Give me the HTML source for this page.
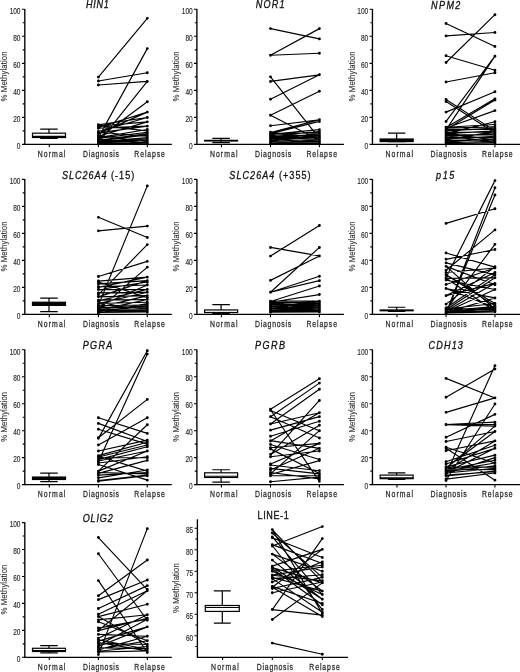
<!DOCTYPE html>
<html><head><meta charset="utf-8"><style>
html,body{margin:0;padding:0;background:#fff;}
svg{display:block;font-family:"Liberation Sans", sans-serif;will-change:transform;}
</style></head><body>
<svg width="520" height="672" viewBox="0 0 520 672">
<rect width="520" height="672" fill="#fff"/>
<path d="M24.8 8.9V144.4H171.8" fill="none" stroke="#000" stroke-width="1.35"/>
<path d="M21.9 144.4H24.8M21.9 117.38H24.8M21.9 90.36H24.8M21.9 63.34H24.8M21.9 36.32H24.8M21.9 9.3H24.8M22.7 130.89H24.8M22.7 103.87H24.8M22.7 76.85H24.8M22.7 49.83H24.8M22.7 22.81H24.8M49.3 144.4V147.2M98.4 144.4V147.2M147.3 144.4V147.2" stroke="#000" stroke-width="1.1" fill="none"/>
<text font-size="8.2" text-anchor="end" fill="#2a2a2a" textLength="4.5" lengthAdjust="spacing" stroke="#2a2a2a" stroke-width="0.15" transform="translate(20.5 149.1) scale(0.8 1)">0</text>
<text font-size="8.2" text-anchor="end" fill="#2a2a2a" textLength="9" lengthAdjust="spacing" stroke="#2a2a2a" stroke-width="0.15" transform="translate(20.5 122.08) scale(0.8 1)">20</text>
<text font-size="8.2" text-anchor="end" fill="#2a2a2a" textLength="9" lengthAdjust="spacing" stroke="#2a2a2a" stroke-width="0.15" transform="translate(20.5 95.06) scale(0.8 1)">40</text>
<text font-size="8.2" text-anchor="end" fill="#2a2a2a" textLength="9" lengthAdjust="spacing" stroke="#2a2a2a" stroke-width="0.15" transform="translate(20.5 68.04) scale(0.8 1)">60</text>
<text font-size="8.2" text-anchor="end" fill="#2a2a2a" textLength="9" lengthAdjust="spacing" stroke="#2a2a2a" stroke-width="0.15" transform="translate(20.5 41.02) scale(0.8 1)">80</text>
<text font-size="8.2" text-anchor="end" fill="#2a2a2a" textLength="13.5" lengthAdjust="spacing" stroke="#2a2a2a" stroke-width="0.15" transform="translate(20.5 14) scale(0.8 1)">100</text>
<text font-size="8.2" text-anchor="middle" fill="#2a2a2a" textLength="52.63" lengthAdjust="spacing" stroke="#2a2a2a" stroke-width="0.1" transform="translate(7.3 76.45) rotate(-90) scale(0.95 1)">% Methylation</text>
<text font-size="8.6" text-anchor="middle" fill="#2a2a2a" textLength="34.5" lengthAdjust="spacing" stroke="#2a2a2a" stroke-width="0.25" transform="translate(51.6 156.7) scale(0.8 1)">Normal</text>
<text font-size="8.6" text-anchor="middle" fill="#2a2a2a" textLength="45.12" lengthAdjust="spacing" stroke="#2a2a2a" stroke-width="0.25" transform="translate(101 156.7) scale(0.8 1)">Diagnosis</text>
<text font-size="8.6" text-anchor="middle" fill="#2a2a2a" textLength="38.25" lengthAdjust="spacing" stroke="#2a2a2a" stroke-width="0.25" transform="translate(149.6 156.7) scale(0.8 1)">Relapse</text>
<text transform="translate(97.4 8.4) scale(0.88 1)" font-size="10.3" text-anchor="middle" fill="#111" stroke="#111" stroke-width="0.3" textLength="25.91" lengthAdjust="spacing"><tspan font-style="italic">HIN1</tspan></text>
<g stroke="#000" stroke-width="1.2" fill="none"><path d="M40.25 129.13H57.75M40.25 138.46H57.75M49 129.13V133.19M49 137.51V138.46"/><rect x="32.5" y="133.19" width="33" height="4.32" fill="#fff"/><path d="M32.5 136.29H65.5"/></g>
<path d="M98.4 77.12L147.3 18.35M98.4 81.04L147.3 72.8M98.4 84.96L147.3 81.44M98.4 137.65L147.3 48.61M98.4 142.64L147.3 81.44M98.4 137.92L147.3 101.71M98.4 127.51L147.3 112.11M98.4 133.59L147.3 112.11M98.4 124.81L147.3 117.52M98.4 131.57L147.3 117.52M98.4 126.16L147.3 121.84M98.4 136.29L147.3 121.84M98.4 128.19L147.3 126.16M98.4 132.92L147.3 126.16M98.4 137.65L147.3 129.54M98.4 125.49L147.3 130.89M98.4 138.32L147.3 132.24M98.4 140.35L147.3 133.59M98.4 141.02L147.3 134.94M98.4 132.24L147.3 136.29M98.4 141.7L147.3 137.65M98.4 142.37L147.3 139M98.4 143.05L147.3 140.35M98.4 135.62L147.3 141.7M98.4 143.72L147.3 142.37M98.4 139.67L147.3 143.05M98.4 143.32L147.3 143.72" stroke="#000" stroke-width="1.15" fill="none"/>
<path d="M98.4 77.12h0M147.3 18.35h0M98.4 81.04h0M147.3 72.8h0M98.4 84.96h0M147.3 81.44h0M98.4 137.65h0M147.3 48.61h0M98.4 142.64h0M147.3 81.44h0M98.4 137.92h0M147.3 101.71h0M98.4 127.51h0M147.3 112.11h0M98.4 133.59h0M147.3 112.11h0M98.4 124.81h0M147.3 117.52h0M98.4 131.57h0M147.3 117.52h0M98.4 126.16h0M147.3 121.84h0M98.4 136.29h0M147.3 121.84h0M98.4 128.19h0M147.3 126.16h0M98.4 132.92h0M147.3 126.16h0M98.4 137.65h0M147.3 129.54h0M98.4 125.49h0M147.3 130.89h0M98.4 138.32h0M147.3 132.24h0M98.4 140.35h0M147.3 133.59h0M98.4 141.02h0M147.3 134.94h0M98.4 132.24h0M147.3 136.29h0M98.4 141.7h0M147.3 137.65h0M98.4 142.37h0M147.3 139h0M98.4 143.05h0M147.3 140.35h0M98.4 135.62h0M147.3 141.7h0M98.4 143.72h0M147.3 142.37h0M98.4 139.67h0M147.3 143.05h0M98.4 143.32h0M147.3 143.72h0" stroke="#000" stroke-width="2.9" stroke-linecap="round" fill="none"/>
<path d="M196.9 8.9V144.4H343.9" fill="none" stroke="#000" stroke-width="1.35"/>
<path d="M194 144.4H196.9M194 117.38H196.9M194 90.36H196.9M194 63.34H196.9M194 36.32H196.9M194 9.3H196.9M194.8 130.89H196.9M194.8 103.87H196.9M194.8 76.85H196.9M194.8 49.83H196.9M194.8 22.81H196.9M221.4 144.4V147.2M270.5 144.4V147.2M319.4 144.4V147.2" stroke="#000" stroke-width="1.1" fill="none"/>
<text font-size="8.2" text-anchor="end" fill="#2a2a2a" textLength="4.5" lengthAdjust="spacing" stroke="#2a2a2a" stroke-width="0.15" transform="translate(192.6 149.1) scale(0.8 1)">0</text>
<text font-size="8.2" text-anchor="end" fill="#2a2a2a" textLength="9" lengthAdjust="spacing" stroke="#2a2a2a" stroke-width="0.15" transform="translate(192.6 122.08) scale(0.8 1)">20</text>
<text font-size="8.2" text-anchor="end" fill="#2a2a2a" textLength="9" lengthAdjust="spacing" stroke="#2a2a2a" stroke-width="0.15" transform="translate(192.6 95.06) scale(0.8 1)">40</text>
<text font-size="8.2" text-anchor="end" fill="#2a2a2a" textLength="9" lengthAdjust="spacing" stroke="#2a2a2a" stroke-width="0.15" transform="translate(192.6 68.04) scale(0.8 1)">60</text>
<text font-size="8.2" text-anchor="end" fill="#2a2a2a" textLength="9" lengthAdjust="spacing" stroke="#2a2a2a" stroke-width="0.15" transform="translate(192.6 41.02) scale(0.8 1)">80</text>
<text font-size="8.2" text-anchor="end" fill="#2a2a2a" textLength="13.5" lengthAdjust="spacing" stroke="#2a2a2a" stroke-width="0.15" transform="translate(192.6 14) scale(0.8 1)">100</text>
<text font-size="8.2" text-anchor="middle" fill="#2a2a2a" textLength="52.63" lengthAdjust="spacing" stroke="#2a2a2a" stroke-width="0.1" transform="translate(179.4 76.45) rotate(-90) scale(0.95 1)">% Methylation</text>
<text font-size="8.6" text-anchor="middle" fill="#2a2a2a" textLength="34.5" lengthAdjust="spacing" stroke="#2a2a2a" stroke-width="0.25" transform="translate(223.7 156.7) scale(0.8 1)">Normal</text>
<text font-size="8.6" text-anchor="middle" fill="#2a2a2a" textLength="45.12" lengthAdjust="spacing" stroke="#2a2a2a" stroke-width="0.25" transform="translate(273.1 156.7) scale(0.8 1)">Diagnosis</text>
<text font-size="8.6" text-anchor="middle" fill="#2a2a2a" textLength="38.25" lengthAdjust="spacing" stroke="#2a2a2a" stroke-width="0.25" transform="translate(321.7 156.7) scale(0.8 1)">Relapse</text>
<text transform="translate(270.2 8.3) scale(0.88 1)" font-size="10.3" text-anchor="middle" fill="#111" stroke="#111" stroke-width="0.3" textLength="32.73" lengthAdjust="spacing"><tspan font-style="italic">NOR1</tspan></text>
<g stroke="#000" stroke-width="1.2" fill="none"><path d="M212.35 138.46H229.85M212.35 142.64H229.85M221.1 138.46V140.35M221.1 140.89V142.64"/><rect x="204.6" y="140.35" width="33" height="0.54" fill="#fff"/><path d="M204.6 140.62H237.6"/></g>
<path d="M270.5 28.62L319.4 38.89M270.5 55.23L319.4 28.62M270.5 55.23L319.4 53.21M270.5 76.85L319.4 138.32M270.5 81.44L319.4 74.82M270.5 99.28L319.4 74.82M270.5 115.22L319.4 91.31M270.5 115.22L319.4 140.35M270.5 125.76L319.4 119.81M270.5 132.65L319.4 119.81M270.5 133.59L319.4 121.43M270.5 134.27L319.4 129.67M270.5 135.62L319.4 131.57M270.5 133.32L319.4 132.92M270.5 136.97L319.4 134.27M270.5 134.94L319.4 135.62M270.5 138.32L319.4 136.29M270.5 136.29L319.4 137.65M270.5 139.67L319.4 136.97M270.5 137.65L319.4 139M270.5 141.02L319.4 139.67M270.5 139L319.4 141.02M270.5 140.35L319.4 134.94M270.5 141.97L319.4 141.7M270.5 141.7L319.4 142.78M270.5 143.05L319.4 140.35M270.5 143.32L319.4 143.32M270.5 132.24L319.4 137.65M270.5 138.73L319.4 133.59M270.5 142.51L319.4 142.24" stroke="#000" stroke-width="1.15" fill="none"/>
<path d="M270.5 28.62h0M319.4 38.89h0M270.5 55.23h0M319.4 28.62h0M270.5 55.23h0M319.4 53.21h0M270.5 76.85h0M319.4 138.32h0M270.5 81.44h0M319.4 74.82h0M270.5 99.28h0M319.4 74.82h0M270.5 115.22h0M319.4 91.31h0M270.5 115.22h0M319.4 140.35h0M270.5 125.76h0M319.4 119.81h0M270.5 132.65h0M319.4 119.81h0M270.5 133.59h0M319.4 121.43h0M270.5 134.27h0M319.4 129.67h0M270.5 135.62h0M319.4 131.57h0M270.5 133.32h0M319.4 132.92h0M270.5 136.97h0M319.4 134.27h0M270.5 134.94h0M319.4 135.62h0M270.5 138.32h0M319.4 136.29h0M270.5 136.29h0M319.4 137.65h0M270.5 139.67h0M319.4 136.97h0M270.5 137.65h0M319.4 139h0M270.5 141.02h0M319.4 139.67h0M270.5 139h0M319.4 141.02h0M270.5 140.35h0M319.4 134.94h0M270.5 141.97h0M319.4 141.7h0M270.5 141.7h0M319.4 142.78h0M270.5 143.05h0M319.4 140.35h0M270.5 143.32h0M319.4 143.32h0M270.5 132.24h0M319.4 137.65h0M270.5 138.73h0M319.4 133.59h0M270.5 142.51h0M319.4 142.24h0" stroke="#000" stroke-width="2.9" stroke-linecap="round" fill="none"/>
<path d="M372.45 8.9V144.4H520.05" fill="none" stroke="#000" stroke-width="1.35"/>
<path d="M369.55 144.4H372.45M369.55 117.38H372.45M369.55 90.36H372.45M369.55 63.34H372.45M369.55 36.32H372.45M369.55 9.3H372.45M370.35 130.89H372.45M370.35 103.87H372.45M370.35 76.85H372.45M370.35 49.83H372.45M370.35 22.81H372.45M396.95 144.4V147.2M446.05 144.4V147.2M494.95 144.4V147.2" stroke="#000" stroke-width="1.1" fill="none"/>
<text font-size="8.2" text-anchor="end" fill="#2a2a2a" textLength="4.5" lengthAdjust="spacing" stroke="#2a2a2a" stroke-width="0.15" transform="translate(368.15 149.1) scale(0.8 1)">0</text>
<text font-size="8.2" text-anchor="end" fill="#2a2a2a" textLength="9" lengthAdjust="spacing" stroke="#2a2a2a" stroke-width="0.15" transform="translate(368.15 122.08) scale(0.8 1)">20</text>
<text font-size="8.2" text-anchor="end" fill="#2a2a2a" textLength="9" lengthAdjust="spacing" stroke="#2a2a2a" stroke-width="0.15" transform="translate(368.15 95.06) scale(0.8 1)">40</text>
<text font-size="8.2" text-anchor="end" fill="#2a2a2a" textLength="9" lengthAdjust="spacing" stroke="#2a2a2a" stroke-width="0.15" transform="translate(368.15 68.04) scale(0.8 1)">60</text>
<text font-size="8.2" text-anchor="end" fill="#2a2a2a" textLength="9" lengthAdjust="spacing" stroke="#2a2a2a" stroke-width="0.15" transform="translate(368.15 41.02) scale(0.8 1)">80</text>
<text font-size="8.2" text-anchor="end" fill="#2a2a2a" textLength="13.5" lengthAdjust="spacing" stroke="#2a2a2a" stroke-width="0.15" transform="translate(368.15 14) scale(0.8 1)">100</text>
<text font-size="8.2" text-anchor="middle" fill="#2a2a2a" textLength="52.63" lengthAdjust="spacing" stroke="#2a2a2a" stroke-width="0.1" transform="translate(354.95 76.45) rotate(-90) scale(0.95 1)">% Methylation</text>
<text font-size="8.6" text-anchor="middle" fill="#2a2a2a" textLength="34.5" lengthAdjust="spacing" stroke="#2a2a2a" stroke-width="0.25" transform="translate(399.25 156.7) scale(0.8 1)">Normal</text>
<text font-size="8.6" text-anchor="middle" fill="#2a2a2a" textLength="45.12" lengthAdjust="spacing" stroke="#2a2a2a" stroke-width="0.25" transform="translate(448.65 156.7) scale(0.8 1)">Diagnosis</text>
<text font-size="8.6" text-anchor="middle" fill="#2a2a2a" textLength="38.25" lengthAdjust="spacing" stroke="#2a2a2a" stroke-width="0.25" transform="translate(497.25 156.7) scale(0.8 1)">Relapse</text>
<text transform="translate(445.7 8.6) scale(0.88 1)" font-size="10.3" text-anchor="middle" fill="#111" stroke="#111" stroke-width="0.3" textLength="33.41" lengthAdjust="spacing"><tspan font-style="italic">NPM2</tspan></text>
<g stroke="#000" stroke-width="1.2" fill="none"><path d="M387.9 133.19H405.4M387.9 141.7H405.4M396.65 133.19V139M396.65 141.56V141.7"/><rect x="380.15" y="139" width="33" height="2.57" fill="#111"/><path d="M380.15 140.35H413.15"/></g>
<path d="M446.05 23.49L494.95 46.45M446.05 35.91L494.95 32.54M446.05 62.53L494.95 14.7M446.05 55.77L494.95 70.23M446.05 81.98L494.95 72.8M446.05 121.43L494.95 56.18M446.05 129.94L494.95 56.18M446.05 99.41L494.95 130.89M446.05 101.44L494.95 132.92M446.05 112.11L494.95 91.71M446.05 127.51L494.95 98.87M446.05 129.54L494.95 100.09M446.05 127.92L494.95 110.62M446.05 133.59L494.95 121.7M446.05 127.24L494.95 124.54M446.05 128.19L494.95 126.84M446.05 129.54L494.95 129.54M446.05 130.89L494.95 128.19M446.05 132.24L494.95 132.24M446.05 133.59L494.95 130.89M446.05 134.94L494.95 134.94M446.05 136.29L494.95 133.59M446.05 137.65L494.95 137.65M446.05 139L494.95 136.29M446.05 140.35L494.95 139.67M446.05 141.7L494.95 139M446.05 142.37L494.95 141.7M446.05 143.05L494.95 141.02M446.05 143.72L494.95 143.05M446.05 139.67L494.95 131.57M446.05 132.92L494.95 140.35M446.05 135.62L494.95 142.37" stroke="#000" stroke-width="1.15" fill="none"/>
<path d="M446.05 23.49h0M494.95 46.45h0M446.05 35.91h0M494.95 32.54h0M446.05 62.53h0M494.95 14.7h0M446.05 55.77h0M494.95 70.23h0M446.05 81.98h0M494.95 72.8h0M446.05 121.43h0M494.95 56.18h0M446.05 129.94h0M494.95 56.18h0M446.05 99.41h0M494.95 130.89h0M446.05 101.44h0M494.95 132.92h0M446.05 112.11h0M494.95 91.71h0M446.05 127.51h0M494.95 98.87h0M446.05 129.54h0M494.95 100.09h0M446.05 127.92h0M494.95 110.62h0M446.05 133.59h0M494.95 121.7h0M446.05 127.24h0M494.95 124.54h0M446.05 128.19h0M494.95 126.84h0M446.05 129.54h0M494.95 129.54h0M446.05 130.89h0M494.95 128.19h0M446.05 132.24h0M494.95 132.24h0M446.05 133.59h0M494.95 130.89h0M446.05 134.94h0M494.95 134.94h0M446.05 136.29h0M494.95 133.59h0M446.05 137.65h0M494.95 137.65h0M446.05 139h0M494.95 136.29h0M446.05 140.35h0M494.95 139.67h0M446.05 141.7h0M494.95 139h0M446.05 142.37h0M494.95 141.7h0M446.05 143.05h0M494.95 141.02h0M446.05 143.72h0M494.95 143.05h0M446.05 139.67h0M494.95 131.57h0M446.05 132.92h0M494.95 140.35h0M446.05 135.62h0M494.95 142.37h0" stroke="#000" stroke-width="2.9" stroke-linecap="round" fill="none"/>
<path d="M24.8 179V314.4H171.8" fill="none" stroke="#000" stroke-width="1.35"/>
<path d="M21.9 314.4H24.8M21.9 287.4H24.8M21.9 260.4H24.8M21.9 233.4H24.8M21.9 206.4H24.8M21.9 179.4H24.8M22.7 300.9H24.8M22.7 273.9H24.8M22.7 246.9H24.8M22.7 219.9H24.8M22.7 192.9H24.8M49.3 314.4V317.2M98.4 314.4V317.2M147.3 314.4V317.2" stroke="#000" stroke-width="1.1" fill="none"/>
<text font-size="8.2" text-anchor="end" fill="#2a2a2a" textLength="4.5" lengthAdjust="spacing" stroke="#2a2a2a" stroke-width="0.15" transform="translate(20.5 319.1) scale(0.8 1)">0</text>
<text font-size="8.2" text-anchor="end" fill="#2a2a2a" textLength="9" lengthAdjust="spacing" stroke="#2a2a2a" stroke-width="0.15" transform="translate(20.5 292.1) scale(0.8 1)">20</text>
<text font-size="8.2" text-anchor="end" fill="#2a2a2a" textLength="9" lengthAdjust="spacing" stroke="#2a2a2a" stroke-width="0.15" transform="translate(20.5 265.1) scale(0.8 1)">40</text>
<text font-size="8.2" text-anchor="end" fill="#2a2a2a" textLength="9" lengthAdjust="spacing" stroke="#2a2a2a" stroke-width="0.15" transform="translate(20.5 238.1) scale(0.8 1)">60</text>
<text font-size="8.2" text-anchor="end" fill="#2a2a2a" textLength="9" lengthAdjust="spacing" stroke="#2a2a2a" stroke-width="0.15" transform="translate(20.5 211.1) scale(0.8 1)">80</text>
<text font-size="8.2" text-anchor="end" fill="#2a2a2a" textLength="13.5" lengthAdjust="spacing" stroke="#2a2a2a" stroke-width="0.15" transform="translate(20.5 184.1) scale(0.8 1)">100</text>
<text font-size="8.2" text-anchor="middle" fill="#2a2a2a" textLength="52.63" lengthAdjust="spacing" stroke="#2a2a2a" stroke-width="0.1" transform="translate(7.3 246.5) rotate(-90) scale(0.95 1)">% Methylation</text>
<text font-size="8.6" text-anchor="middle" fill="#2a2a2a" textLength="34.5" lengthAdjust="spacing" stroke="#2a2a2a" stroke-width="0.25" transform="translate(51.6 326.7) scale(0.8 1)">Normal</text>
<text font-size="8.6" text-anchor="middle" fill="#2a2a2a" textLength="45.12" lengthAdjust="spacing" stroke="#2a2a2a" stroke-width="0.25" transform="translate(101 326.7) scale(0.8 1)">Diagnosis</text>
<text font-size="8.6" text-anchor="middle" fill="#2a2a2a" textLength="38.25" lengthAdjust="spacing" stroke="#2a2a2a" stroke-width="0.25" transform="translate(149.6 326.7) scale(0.8 1)">Relapse</text>
<text transform="translate(98.05 179) scale(0.88 1)" font-size="10.3" text-anchor="middle" fill="#111" stroke="#111" stroke-width="0.3" textLength="82.16" lengthAdjust="spacing"><tspan font-style="italic">SLC26A4</tspan> (-15)</text>
<g stroke="#000" stroke-width="1.2" fill="none"><path d="M40.25 298.06H57.75M40.25 311.56H57.75M49 298.06V302.25M49 305.35V311.56"/><rect x="32.5" y="302.25" width="33" height="3.1" fill="#111"/><path d="M32.5 303.8H65.5"/></g>
<path d="M98.4 217.33L147.3 237.45M98.4 230.83L147.3 226.11M98.4 305.35L147.3 185.88M98.4 294.69L147.3 244.6M98.4 276.46L147.3 261.34M98.4 309.67L147.3 267.15M98.4 281.06L147.3 277.14M98.4 283.89L147.3 280.65M98.4 286.72L147.3 284.97M98.4 289.56L147.3 289.56M98.4 292.94L147.3 292.26M98.4 296.85L147.3 295.63M98.4 300.09L147.3 299.55M98.4 303.46L147.3 302.25M98.4 305.76L147.3 304.95M98.4 307.65L147.3 306.97M98.4 309L147.3 309M98.4 310.35L147.3 310.35M98.4 311.7L147.3 311.43M98.4 312.38L147.3 312.24M98.4 282L147.3 297.52M98.4 287.4L147.3 277.14M98.4 296.85L147.3 280.65M98.4 300.9L147.3 289.56M98.4 307.65L147.3 295.63M98.4 310.35L147.3 299.55M98.4 303.6L147.3 292.26M98.4 289.56L147.3 282M98.4 306.3L147.3 284.97M98.4 311.02L147.3 305.62M98.4 304.95L147.3 308.32M98.4 313.05L147.3 303.6" stroke="#000" stroke-width="1.15" fill="none"/>
<path d="M98.4 217.33h0M147.3 237.45h0M98.4 230.83h0M147.3 226.11h0M98.4 305.35h0M147.3 185.88h0M98.4 294.69h0M147.3 244.6h0M98.4 276.46h0M147.3 261.34h0M98.4 309.67h0M147.3 267.15h0M98.4 281.06h0M147.3 277.14h0M98.4 283.89h0M147.3 280.65h0M98.4 286.72h0M147.3 284.97h0M98.4 289.56h0M147.3 289.56h0M98.4 292.94h0M147.3 292.26h0M98.4 296.85h0M147.3 295.63h0M98.4 300.09h0M147.3 299.55h0M98.4 303.46h0M147.3 302.25h0M98.4 305.76h0M147.3 304.95h0M98.4 307.65h0M147.3 306.97h0M98.4 309h0M147.3 309h0M98.4 310.35h0M147.3 310.35h0M98.4 311.7h0M147.3 311.43h0M98.4 312.38h0M147.3 312.24h0M98.4 282h0M147.3 297.52h0M98.4 287.4h0M147.3 277.14h0M98.4 296.85h0M147.3 280.65h0M98.4 300.9h0M147.3 289.56h0M98.4 307.65h0M147.3 295.63h0M98.4 310.35h0M147.3 299.55h0M98.4 303.6h0M147.3 292.26h0M98.4 289.56h0M147.3 282h0M98.4 306.3h0M147.3 284.97h0M98.4 311.02h0M147.3 305.62h0M98.4 304.95h0M147.3 308.32h0M98.4 313.05h0M147.3 303.6h0" stroke="#000" stroke-width="2.9" stroke-linecap="round" fill="none"/>
<path d="M196.9 179V314.4H343.9" fill="none" stroke="#000" stroke-width="1.35"/>
<path d="M194 314.4H196.9M194 287.4H196.9M194 260.4H196.9M194 233.4H196.9M194 206.4H196.9M194 179.4H196.9M194.8 300.9H196.9M194.8 273.9H196.9M194.8 246.9H196.9M194.8 219.9H196.9M194.8 192.9H196.9M221.4 314.4V317.2M270.5 314.4V317.2M319.4 314.4V317.2" stroke="#000" stroke-width="1.1" fill="none"/>
<text font-size="8.2" text-anchor="end" fill="#2a2a2a" textLength="4.5" lengthAdjust="spacing" stroke="#2a2a2a" stroke-width="0.15" transform="translate(192.6 319.1) scale(0.8 1)">0</text>
<text font-size="8.2" text-anchor="end" fill="#2a2a2a" textLength="9" lengthAdjust="spacing" stroke="#2a2a2a" stroke-width="0.15" transform="translate(192.6 292.1) scale(0.8 1)">20</text>
<text font-size="8.2" text-anchor="end" fill="#2a2a2a" textLength="9" lengthAdjust="spacing" stroke="#2a2a2a" stroke-width="0.15" transform="translate(192.6 265.1) scale(0.8 1)">40</text>
<text font-size="8.2" text-anchor="end" fill="#2a2a2a" textLength="9" lengthAdjust="spacing" stroke="#2a2a2a" stroke-width="0.15" transform="translate(192.6 238.1) scale(0.8 1)">60</text>
<text font-size="8.2" text-anchor="end" fill="#2a2a2a" textLength="9" lengthAdjust="spacing" stroke="#2a2a2a" stroke-width="0.15" transform="translate(192.6 211.1) scale(0.8 1)">80</text>
<text font-size="8.2" text-anchor="end" fill="#2a2a2a" textLength="13.5" lengthAdjust="spacing" stroke="#2a2a2a" stroke-width="0.15" transform="translate(192.6 184.1) scale(0.8 1)">100</text>
<text font-size="8.2" text-anchor="middle" fill="#2a2a2a" textLength="52.63" lengthAdjust="spacing" stroke="#2a2a2a" stroke-width="0.1" transform="translate(179.4 246.5) rotate(-90) scale(0.95 1)">% Methylation</text>
<text font-size="8.6" text-anchor="middle" fill="#2a2a2a" textLength="34.5" lengthAdjust="spacing" stroke="#2a2a2a" stroke-width="0.25" transform="translate(223.7 326.7) scale(0.8 1)">Normal</text>
<text font-size="8.6" text-anchor="middle" fill="#2a2a2a" textLength="45.12" lengthAdjust="spacing" stroke="#2a2a2a" stroke-width="0.25" transform="translate(273.1 326.7) scale(0.8 1)">Diagnosis</text>
<text font-size="8.6" text-anchor="middle" fill="#2a2a2a" textLength="38.25" lengthAdjust="spacing" stroke="#2a2a2a" stroke-width="0.25" transform="translate(321.7 326.7) scale(0.8 1)">Relapse</text>
<text transform="translate(269.95 179) scale(0.88 1)" font-size="10.3" text-anchor="middle" fill="#111" stroke="#111" stroke-width="0.3" textLength="92.39" lengthAdjust="spacing"><tspan font-style="italic">SLC26A4</tspan> (+355)</text>
<g stroke="#000" stroke-width="1.2" fill="none"><path d="M212.35 304.68H229.85M212.35 313.72H229.85M221.1 304.68V309.94M221.1 312.51V313.72"/><rect x="204.6" y="309.94" width="33" height="2.56" fill="#fff"/><path d="M204.6 312.51H237.6"/></g>
<path d="M270.5 247.44L319.4 255.94M270.5 256.08L319.4 225.44M270.5 280.38L319.4 255.94M270.5 292.26L319.4 247.44M270.5 292.26L319.4 276.19M270.5 292.26L319.4 280.65M270.5 301.44L319.4 286.05M270.5 302.25L319.4 294.56M270.5 301.17L319.4 301.17M270.5 302.25L319.4 302.92M270.5 303.33L319.4 301.98M270.5 304.27L319.4 304.68M270.5 304.95L319.4 305.89M270.5 305.62L319.4 303.6M270.5 306.3L319.4 307.38M270.5 306.97L319.4 308.46M270.5 307.65L319.4 306.3M270.5 308.32L319.4 309.54M270.5 309L319.4 307.65M270.5 309.67L319.4 310.35M270.5 310.35L319.4 308.73M270.5 311.02L319.4 311.16M270.5 311.7L319.4 310.08M270.5 312.24L319.4 311.97M270.5 302.92L319.4 309M270.5 306.97L319.4 301.57M270.5 310.35L319.4 304.27M270.5 304.27L319.4 311.02" stroke="#000" stroke-width="1.15" fill="none"/>
<path d="M270.5 247.44h0M319.4 255.94h0M270.5 256.08h0M319.4 225.44h0M270.5 280.38h0M319.4 255.94h0M270.5 292.26h0M319.4 247.44h0M270.5 292.26h0M319.4 276.19h0M270.5 292.26h0M319.4 280.65h0M270.5 301.44h0M319.4 286.05h0M270.5 302.25h0M319.4 294.56h0M270.5 301.17h0M319.4 301.17h0M270.5 302.25h0M319.4 302.92h0M270.5 303.33h0M319.4 301.98h0M270.5 304.27h0M319.4 304.68h0M270.5 304.95h0M319.4 305.89h0M270.5 305.62h0M319.4 303.6h0M270.5 306.3h0M319.4 307.38h0M270.5 306.97h0M319.4 308.46h0M270.5 307.65h0M319.4 306.3h0M270.5 308.32h0M319.4 309.54h0M270.5 309h0M319.4 307.65h0M270.5 309.67h0M319.4 310.35h0M270.5 310.35h0M319.4 308.73h0M270.5 311.02h0M319.4 311.16h0M270.5 311.7h0M319.4 310.08h0M270.5 312.24h0M319.4 311.97h0M270.5 302.92h0M319.4 309h0M270.5 306.97h0M319.4 301.57h0M270.5 310.35h0M319.4 304.27h0M270.5 304.27h0M319.4 311.02h0" stroke="#000" stroke-width="2.9" stroke-linecap="round" fill="none"/>
<path d="M372.45 179V314.4H520.05" fill="none" stroke="#000" stroke-width="1.35"/>
<path d="M369.55 314.4H372.45M369.55 287.4H372.45M369.55 260.4H372.45M369.55 233.4H372.45M369.55 206.4H372.45M369.55 179.4H372.45M370.35 300.9H372.45M370.35 273.9H372.45M370.35 246.9H372.45M370.35 219.9H372.45M370.35 192.9H372.45M396.95 314.4V317.2M446.05 314.4V317.2M494.95 314.4V317.2" stroke="#000" stroke-width="1.1" fill="none"/>
<text font-size="8.2" text-anchor="end" fill="#2a2a2a" textLength="4.5" lengthAdjust="spacing" stroke="#2a2a2a" stroke-width="0.15" transform="translate(368.15 319.1) scale(0.8 1)">0</text>
<text font-size="8.2" text-anchor="end" fill="#2a2a2a" textLength="9" lengthAdjust="spacing" stroke="#2a2a2a" stroke-width="0.15" transform="translate(368.15 292.1) scale(0.8 1)">20</text>
<text font-size="8.2" text-anchor="end" fill="#2a2a2a" textLength="9" lengthAdjust="spacing" stroke="#2a2a2a" stroke-width="0.15" transform="translate(368.15 265.1) scale(0.8 1)">40</text>
<text font-size="8.2" text-anchor="end" fill="#2a2a2a" textLength="9" lengthAdjust="spacing" stroke="#2a2a2a" stroke-width="0.15" transform="translate(368.15 238.1) scale(0.8 1)">60</text>
<text font-size="8.2" text-anchor="end" fill="#2a2a2a" textLength="9" lengthAdjust="spacing" stroke="#2a2a2a" stroke-width="0.15" transform="translate(368.15 211.1) scale(0.8 1)">80</text>
<text font-size="8.2" text-anchor="end" fill="#2a2a2a" textLength="13.5" lengthAdjust="spacing" stroke="#2a2a2a" stroke-width="0.15" transform="translate(368.15 184.1) scale(0.8 1)">100</text>
<text font-size="8.2" text-anchor="middle" fill="#2a2a2a" textLength="52.63" lengthAdjust="spacing" stroke="#2a2a2a" stroke-width="0.1" transform="translate(354.95 246.5) rotate(-90) scale(0.95 1)">% Methylation</text>
<text font-size="8.6" text-anchor="middle" fill="#2a2a2a" textLength="34.5" lengthAdjust="spacing" stroke="#2a2a2a" stroke-width="0.25" transform="translate(399.25 326.7) scale(0.8 1)">Normal</text>
<text font-size="8.6" text-anchor="middle" fill="#2a2a2a" textLength="45.12" lengthAdjust="spacing" stroke="#2a2a2a" stroke-width="0.25" transform="translate(448.65 326.7) scale(0.8 1)">Diagnosis</text>
<text font-size="8.6" text-anchor="middle" fill="#2a2a2a" textLength="38.25" lengthAdjust="spacing" stroke="#2a2a2a" stroke-width="0.25" transform="translate(497.25 326.7) scale(0.8 1)">Relapse</text>
<text transform="translate(445.25 179) scale(0.88 1)" font-size="10.3" text-anchor="middle" fill="#111" stroke="#111" stroke-width="0.3" textLength="20.8" lengthAdjust="spacing"><tspan font-style="italic">p15</tspan></text>
<g stroke="#000" stroke-width="1.2" fill="none"><path d="M387.9 307.25H405.4M387.9 311.43H405.4M396.65 307.25V310.08M396.65 310.75V311.43"/><rect x="380.15" y="310.08" width="33" height="0.68" fill="#fff"/><path d="M380.15 310.35H413.15"/></g>
<path d="M446.05 223.41L494.95 208.69M446.05 277.54L494.95 180.62M446.05 313.05L494.95 187.77M446.05 313.72L494.95 194.93M446.05 270.25L494.95 229.89M446.05 309.54L494.95 244.33M446.05 259.32L494.95 249.46M446.05 252.97L494.95 267.15M446.05 262.83L494.95 274.84M446.05 266.34L494.95 284.7M446.05 272.55L494.95 267.96M446.05 274.84L494.95 303.46M446.05 278.35L494.95 277.81M446.05 280.11L494.95 289.56M446.05 284.56L494.95 267.96M446.05 288.48L494.95 297.93M446.05 295.63L494.95 283.35M446.05 304.14L494.95 266.75M446.05 307.92L494.95 274.84M446.05 309.67L494.95 277.81M446.05 311.02L494.95 283.35M446.05 311.7L494.95 289.56M446.05 312.38L494.95 297.93M446.05 309L494.95 303.46M446.05 266.34L494.95 309M446.05 274.84L494.95 305.76M446.05 278.35L494.95 311.02M446.05 288.48L494.95 307.65M446.05 311.02L494.95 306.3M446.05 312.38L494.95 310.35M446.05 313.05L494.95 311.83M446.05 309.67L494.95 311.7M446.05 311.7L494.95 308.32M446.05 308.32L494.95 309.67M446.05 312.78L494.95 306.97M446.05 295.63L494.95 272.55" stroke="#000" stroke-width="1.15" fill="none"/>
<path d="M446.05 223.41h0M494.95 208.69h0M446.05 277.54h0M494.95 180.62h0M446.05 313.05h0M494.95 187.77h0M446.05 313.72h0M494.95 194.93h0M446.05 270.25h0M494.95 229.89h0M446.05 309.54h0M494.95 244.33h0M446.05 259.32h0M494.95 249.46h0M446.05 252.97h0M494.95 267.15h0M446.05 262.83h0M494.95 274.84h0M446.05 266.34h0M494.95 284.7h0M446.05 272.55h0M494.95 267.96h0M446.05 274.84h0M494.95 303.46h0M446.05 278.35h0M494.95 277.81h0M446.05 280.11h0M494.95 289.56h0M446.05 284.56h0M494.95 267.96h0M446.05 288.48h0M494.95 297.93h0M446.05 295.63h0M494.95 283.35h0M446.05 304.14h0M494.95 266.75h0M446.05 307.92h0M494.95 274.84h0M446.05 309.67h0M494.95 277.81h0M446.05 311.02h0M494.95 283.35h0M446.05 311.7h0M494.95 289.56h0M446.05 312.38h0M494.95 297.93h0M446.05 309h0M494.95 303.46h0M446.05 266.34h0M494.95 309h0M446.05 274.84h0M494.95 305.76h0M446.05 278.35h0M494.95 311.02h0M446.05 288.48h0M494.95 307.65h0M446.05 311.02h0M494.95 306.3h0M446.05 312.38h0M494.95 310.35h0M446.05 313.05h0M494.95 311.83h0M446.05 309.67h0M494.95 311.7h0M446.05 311.7h0M494.95 308.32h0M446.05 308.32h0M494.95 309.67h0M446.05 312.78h0M494.95 306.97h0M446.05 295.63h0M494.95 272.55h0" stroke="#000" stroke-width="2.9" stroke-linecap="round" fill="none"/>
<path d="M24.8 349.4V484.6H171.8" fill="none" stroke="#000" stroke-width="1.35"/>
<path d="M21.9 484.6H24.8M21.9 457.64H24.8M21.9 430.68H24.8M21.9 403.72H24.8M21.9 376.76H24.8M21.9 349.8H24.8M22.7 471.12H24.8M22.7 444.16H24.8M22.7 417.2H24.8M22.7 390.24H24.8M22.7 363.28H24.8M49.3 484.6V487.4M98.4 484.6V487.4M147.3 484.6V487.4" stroke="#000" stroke-width="1.1" fill="none"/>
<text font-size="8.2" text-anchor="end" fill="#2a2a2a" textLength="4.5" lengthAdjust="spacing" stroke="#2a2a2a" stroke-width="0.15" transform="translate(20.5 489.3) scale(0.8 1)">0</text>
<text font-size="8.2" text-anchor="end" fill="#2a2a2a" textLength="9" lengthAdjust="spacing" stroke="#2a2a2a" stroke-width="0.15" transform="translate(20.5 462.34) scale(0.8 1)">20</text>
<text font-size="8.2" text-anchor="end" fill="#2a2a2a" textLength="9" lengthAdjust="spacing" stroke="#2a2a2a" stroke-width="0.15" transform="translate(20.5 435.38) scale(0.8 1)">40</text>
<text font-size="8.2" text-anchor="end" fill="#2a2a2a" textLength="9" lengthAdjust="spacing" stroke="#2a2a2a" stroke-width="0.15" transform="translate(20.5 408.42) scale(0.8 1)">60</text>
<text font-size="8.2" text-anchor="end" fill="#2a2a2a" textLength="9" lengthAdjust="spacing" stroke="#2a2a2a" stroke-width="0.15" transform="translate(20.5 381.46) scale(0.8 1)">80</text>
<text font-size="8.2" text-anchor="end" fill="#2a2a2a" textLength="13.5" lengthAdjust="spacing" stroke="#2a2a2a" stroke-width="0.15" transform="translate(20.5 354.5) scale(0.8 1)">100</text>
<text font-size="8.2" text-anchor="middle" fill="#2a2a2a" textLength="52.63" lengthAdjust="spacing" stroke="#2a2a2a" stroke-width="0.1" transform="translate(7.3 416.8) rotate(-90) scale(0.95 1)">% Methylation</text>
<text font-size="8.6" text-anchor="middle" fill="#2a2a2a" textLength="34.5" lengthAdjust="spacing" stroke="#2a2a2a" stroke-width="0.25" transform="translate(51.6 496.9) scale(0.8 1)">Normal</text>
<text font-size="8.6" text-anchor="middle" fill="#2a2a2a" textLength="45.12" lengthAdjust="spacing" stroke="#2a2a2a" stroke-width="0.25" transform="translate(101 496.9) scale(0.8 1)">Diagnosis</text>
<text font-size="8.6" text-anchor="middle" fill="#2a2a2a" textLength="38.25" lengthAdjust="spacing" stroke="#2a2a2a" stroke-width="0.25" transform="translate(149.6 496.9) scale(0.8 1)">Relapse</text>
<text transform="translate(97.55 348.8) scale(0.88 1)" font-size="10.3" text-anchor="middle" fill="#111" stroke="#111" stroke-width="0.3" textLength="33.75" lengthAdjust="spacing"><tspan font-style="italic">PGRA</tspan></text>
<g stroke="#000" stroke-width="1.2" fill="none"><path d="M40.25 473.14H57.75M40.25 481.63H57.75M49 473.14V477.05M49 479.48V481.63"/><rect x="32.5" y="477.05" width="33" height="2.43" fill="#111"/><path d="M32.5 478.26H65.5"/></g>
<path d="M98.4 417.74L147.3 433.38M98.4 423.4L147.3 441.46M98.4 429.2L147.3 444.16M98.4 438.36L147.3 350.74M98.4 437.69L147.3 399.41M98.4 461.68L147.3 354.11M98.4 444.97L147.3 417.74M98.4 471.12L147.3 424.75M98.4 451.03L147.3 440.12M98.4 455.62L147.3 442.27M98.4 456.97L147.3 444.97M98.4 457.77L147.3 457.77M98.4 459.66L147.3 446.72M98.4 461.01L147.3 451.03M98.4 463.03L147.3 456.7M98.4 464.51L147.3 480.15M98.4 471.12L147.3 451.03M98.4 473.41L147.3 460.34M98.4 475.16L147.3 472.47M98.4 477.86L147.3 470.04M98.4 480.56L147.3 475.16M98.4 481.23L147.3 475.7M98.4 472.47L147.3 473.82M98.4 456.29L147.3 471.12" stroke="#000" stroke-width="1.15" fill="none"/>
<path d="M98.4 417.74h0M147.3 433.38h0M98.4 423.4h0M147.3 441.46h0M98.4 429.2h0M147.3 444.16h0M98.4 438.36h0M147.3 350.74h0M98.4 437.69h0M147.3 399.41h0M98.4 461.68h0M147.3 354.11h0M98.4 444.97h0M147.3 417.74h0M98.4 471.12h0M147.3 424.75h0M98.4 451.03h0M147.3 440.12h0M98.4 455.62h0M147.3 442.27h0M98.4 456.97h0M147.3 444.97h0M98.4 457.77h0M147.3 457.77h0M98.4 459.66h0M147.3 446.72h0M98.4 461.01h0M147.3 451.03h0M98.4 463.03h0M147.3 456.7h0M98.4 464.51h0M147.3 480.15h0M98.4 471.12h0M147.3 451.03h0M98.4 473.41h0M147.3 460.34h0M98.4 475.16h0M147.3 472.47h0M98.4 477.86h0M147.3 470.04h0M98.4 480.56h0M147.3 475.16h0M98.4 481.23h0M147.3 475.7h0M98.4 472.47h0M147.3 473.82h0M98.4 456.29h0M147.3 471.12h0" stroke="#000" stroke-width="2.9" stroke-linecap="round" fill="none"/>
<path d="M196.9 349.4V484.6H343.9" fill="none" stroke="#000" stroke-width="1.35"/>
<path d="M194 484.6H196.9M194 457.64H196.9M194 430.68H196.9M194 403.72H196.9M194 376.76H196.9M194 349.8H196.9M194.8 471.12H196.9M194.8 444.16H196.9M194.8 417.2H196.9M194.8 390.24H196.9M194.8 363.28H196.9M221.4 484.6V487.4M270.5 484.6V487.4M319.4 484.6V487.4" stroke="#000" stroke-width="1.1" fill="none"/>
<text font-size="8.2" text-anchor="end" fill="#2a2a2a" textLength="4.5" lengthAdjust="spacing" stroke="#2a2a2a" stroke-width="0.15" transform="translate(192.6 489.3) scale(0.8 1)">0</text>
<text font-size="8.2" text-anchor="end" fill="#2a2a2a" textLength="9" lengthAdjust="spacing" stroke="#2a2a2a" stroke-width="0.15" transform="translate(192.6 462.34) scale(0.8 1)">20</text>
<text font-size="8.2" text-anchor="end" fill="#2a2a2a" textLength="9" lengthAdjust="spacing" stroke="#2a2a2a" stroke-width="0.15" transform="translate(192.6 435.38) scale(0.8 1)">40</text>
<text font-size="8.2" text-anchor="end" fill="#2a2a2a" textLength="9" lengthAdjust="spacing" stroke="#2a2a2a" stroke-width="0.15" transform="translate(192.6 408.42) scale(0.8 1)">60</text>
<text font-size="8.2" text-anchor="end" fill="#2a2a2a" textLength="9" lengthAdjust="spacing" stroke="#2a2a2a" stroke-width="0.15" transform="translate(192.6 381.46) scale(0.8 1)">80</text>
<text font-size="8.2" text-anchor="end" fill="#2a2a2a" textLength="13.5" lengthAdjust="spacing" stroke="#2a2a2a" stroke-width="0.15" transform="translate(192.6 354.5) scale(0.8 1)">100</text>
<text font-size="8.2" text-anchor="middle" fill="#2a2a2a" textLength="52.63" lengthAdjust="spacing" stroke="#2a2a2a" stroke-width="0.1" transform="translate(179.4 416.8) rotate(-90) scale(0.95 1)">% Methylation</text>
<text font-size="8.6" text-anchor="middle" fill="#2a2a2a" textLength="34.5" lengthAdjust="spacing" stroke="#2a2a2a" stroke-width="0.25" transform="translate(223.7 496.9) scale(0.8 1)">Normal</text>
<text font-size="8.6" text-anchor="middle" fill="#2a2a2a" textLength="45.12" lengthAdjust="spacing" stroke="#2a2a2a" stroke-width="0.25" transform="translate(273.1 496.9) scale(0.8 1)">Diagnosis</text>
<text font-size="8.6" text-anchor="middle" fill="#2a2a2a" textLength="38.25" lengthAdjust="spacing" stroke="#2a2a2a" stroke-width="0.25" transform="translate(321.7 496.9) scale(0.8 1)">Relapse</text>
<text transform="translate(270 348.8) scale(0.88 1)" font-size="10.3" text-anchor="middle" fill="#111" stroke="#111" stroke-width="0.3" textLength="34.09" lengthAdjust="spacing"><tspan font-style="italic">PGRB</tspan></text>
<g stroke="#000" stroke-width="1.2" fill="none"><path d="M212.35 469.77H229.85M212.35 482.11H229.85M221.1 469.77V472.81M221.1 477.46V482.11"/><rect x="204.6" y="472.81" width="33" height="4.65" fill="#fff"/><path d="M204.6 476.24H237.6"/></g>
<path d="M270.5 409.25L319.4 378.65M270.5 416.66L319.4 383.1M270.5 423.94L319.4 389.3M270.5 409.79L319.4 481.36M270.5 410.59L319.4 430.68M270.5 454.54L319.4 400.48M270.5 416.66L319.4 437.96M270.5 423.94L319.4 412.75M270.5 430.14L319.4 416.66M270.5 436.21L319.4 421.24M270.5 440.66L319.4 448.34M270.5 441.06L319.4 412.75M270.5 444.56L319.4 459.53M270.5 447.8L319.4 443.35M270.5 448.88L319.4 473.41M270.5 454.54L319.4 425.29M270.5 456.7L319.4 451.03M270.5 463.98L319.4 443.35M270.5 465.05L319.4 470.72M270.5 470.04L319.4 448.34M270.5 472.47L319.4 478.94M270.5 474.49L319.4 460.61M270.5 475.7L319.4 475.7M270.5 481.77L319.4 477.19M270.5 473.82L319.4 430.68M270.5 468.42L319.4 473.82" stroke="#000" stroke-width="1.15" fill="none"/>
<path d="M270.5 409.25h0M319.4 378.65h0M270.5 416.66h0M319.4 383.1h0M270.5 423.94h0M319.4 389.3h0M270.5 409.79h0M319.4 481.36h0M270.5 410.59h0M319.4 430.68h0M270.5 454.54h0M319.4 400.48h0M270.5 416.66h0M319.4 437.96h0M270.5 423.94h0M319.4 412.75h0M270.5 430.14h0M319.4 416.66h0M270.5 436.21h0M319.4 421.24h0M270.5 440.66h0M319.4 448.34h0M270.5 441.06h0M319.4 412.75h0M270.5 444.56h0M319.4 459.53h0M270.5 447.8h0M319.4 443.35h0M270.5 448.88h0M319.4 473.41h0M270.5 454.54h0M319.4 425.29h0M270.5 456.7h0M319.4 451.03h0M270.5 463.98h0M319.4 443.35h0M270.5 465.05h0M319.4 470.72h0M270.5 470.04h0M319.4 448.34h0M270.5 472.47h0M319.4 478.94h0M270.5 474.49h0M319.4 460.61h0M270.5 475.7h0M319.4 475.7h0M270.5 481.77h0M319.4 477.19h0M270.5 473.82h0M319.4 430.68h0M270.5 468.42h0M319.4 473.82h0" stroke="#000" stroke-width="2.9" stroke-linecap="round" fill="none"/>
<path d="M372.45 349.4V484.6H520.05" fill="none" stroke="#000" stroke-width="1.35"/>
<path d="M369.55 484.6H372.45M369.55 457.64H372.45M369.55 430.68H372.45M369.55 403.72H372.45M369.55 376.76H372.45M369.55 349.8H372.45M370.35 471.12H372.45M370.35 444.16H372.45M370.35 417.2H372.45M370.35 390.24H372.45M370.35 363.28H372.45M396.95 484.6V487.4M446.05 484.6V487.4M494.95 484.6V487.4" stroke="#000" stroke-width="1.1" fill="none"/>
<text font-size="8.2" text-anchor="end" fill="#2a2a2a" textLength="4.5" lengthAdjust="spacing" stroke="#2a2a2a" stroke-width="0.15" transform="translate(368.15 489.3) scale(0.8 1)">0</text>
<text font-size="8.2" text-anchor="end" fill="#2a2a2a" textLength="9" lengthAdjust="spacing" stroke="#2a2a2a" stroke-width="0.15" transform="translate(368.15 462.34) scale(0.8 1)">20</text>
<text font-size="8.2" text-anchor="end" fill="#2a2a2a" textLength="9" lengthAdjust="spacing" stroke="#2a2a2a" stroke-width="0.15" transform="translate(368.15 435.38) scale(0.8 1)">40</text>
<text font-size="8.2" text-anchor="end" fill="#2a2a2a" textLength="9" lengthAdjust="spacing" stroke="#2a2a2a" stroke-width="0.15" transform="translate(368.15 408.42) scale(0.8 1)">60</text>
<text font-size="8.2" text-anchor="end" fill="#2a2a2a" textLength="9" lengthAdjust="spacing" stroke="#2a2a2a" stroke-width="0.15" transform="translate(368.15 381.46) scale(0.8 1)">80</text>
<text font-size="8.2" text-anchor="end" fill="#2a2a2a" textLength="13.5" lengthAdjust="spacing" stroke="#2a2a2a" stroke-width="0.15" transform="translate(368.15 354.5) scale(0.8 1)">100</text>
<text font-size="8.2" text-anchor="middle" fill="#2a2a2a" textLength="52.63" lengthAdjust="spacing" stroke="#2a2a2a" stroke-width="0.1" transform="translate(354.95 416.8) rotate(-90) scale(0.95 1)">% Methylation</text>
<text font-size="8.6" text-anchor="middle" fill="#2a2a2a" textLength="34.5" lengthAdjust="spacing" stroke="#2a2a2a" stroke-width="0.25" transform="translate(399.25 496.9) scale(0.8 1)">Normal</text>
<text font-size="8.6" text-anchor="middle" fill="#2a2a2a" textLength="45.12" lengthAdjust="spacing" stroke="#2a2a2a" stroke-width="0.25" transform="translate(448.65 496.9) scale(0.8 1)">Diagnosis</text>
<text font-size="8.6" text-anchor="middle" fill="#2a2a2a" textLength="38.25" lengthAdjust="spacing" stroke="#2a2a2a" stroke-width="0.25" transform="translate(497.25 496.9) scale(0.8 1)">Relapse</text>
<text transform="translate(445.75 348.8) scale(0.88 1)" font-size="10.3" text-anchor="middle" fill="#111" stroke="#111" stroke-width="0.3" textLength="38.98" lengthAdjust="spacing"><tspan font-style="italic">CDH13</tspan></text>
<g stroke="#000" stroke-width="1.2" fill="none"><path d="M387.9 472.87H405.4M387.9 479.48H405.4M396.65 472.87V475.1M396.65 478.67V479.48"/><rect x="380.15" y="475.1" width="33" height="3.57" fill="#fff"/><path d="M380.15 477.86H413.15"/></g>
<path d="M446.05 378.38L494.95 397.92M446.05 397.25L494.95 369.08M446.05 412.35L494.95 397.92M446.05 474.09L494.95 365.71M446.05 480.56L494.95 403.99M446.05 424.48L494.95 424.48M446.05 424.48L494.95 422.19M446.05 424.75L494.95 426.1M446.05 437.29L494.95 414.37M446.05 441.46L494.95 431.49M446.05 448.2L494.95 480.15M446.05 450.77L494.95 440.92M446.05 461.82L494.95 445.24M446.05 463.98L494.95 448.34M446.05 466.81L494.95 455.08M446.05 468.42L494.95 426.1M446.05 469.77L494.95 460.2M446.05 471.12L494.95 463.03M446.05 471.79L494.95 465.73M446.05 473.01L494.95 468.42M446.05 475.84L494.95 471.12M446.05 479.07L494.95 473.01M446.05 467.75L494.95 431.49M446.05 470.45L494.95 440.92M446.05 472.47L494.95 448.2M446.05 469.1L494.95 469.77M446.05 447.26L494.95 463.03M446.05 473.82L494.95 457.64M446.05 467.08L494.95 467.08M446.05 475.16L494.95 471.79" stroke="#000" stroke-width="1.15" fill="none"/>
<path d="M446.05 378.38h0M494.95 397.92h0M446.05 397.25h0M494.95 369.08h0M446.05 412.35h0M494.95 397.92h0M446.05 474.09h0M494.95 365.71h0M446.05 480.56h0M494.95 403.99h0M446.05 424.48h0M494.95 424.48h0M446.05 424.48h0M494.95 422.19h0M446.05 424.75h0M494.95 426.1h0M446.05 437.29h0M494.95 414.37h0M446.05 441.46h0M494.95 431.49h0M446.05 448.2h0M494.95 480.15h0M446.05 450.77h0M494.95 440.92h0M446.05 461.82h0M494.95 445.24h0M446.05 463.98h0M494.95 448.34h0M446.05 466.81h0M494.95 455.08h0M446.05 468.42h0M494.95 426.1h0M446.05 469.77h0M494.95 460.2h0M446.05 471.12h0M494.95 463.03h0M446.05 471.79h0M494.95 465.73h0M446.05 473.01h0M494.95 468.42h0M446.05 475.84h0M494.95 471.12h0M446.05 479.07h0M494.95 473.01h0M446.05 467.75h0M494.95 431.49h0M446.05 470.45h0M494.95 440.92h0M446.05 472.47h0M494.95 448.2h0M446.05 469.1h0M494.95 469.77h0M446.05 447.26h0M494.95 463.03h0M446.05 473.82h0M494.95 457.64h0M446.05 467.08h0M494.95 467.08h0M446.05 475.16h0M494.95 471.79h0" stroke="#000" stroke-width="2.9" stroke-linecap="round" fill="none"/>
<path d="M24.8 522.2V657.3H171.8" fill="none" stroke="#000" stroke-width="1.35"/>
<path d="M21.9 657.3H24.8M21.9 630.36H24.8M21.9 603.42H24.8M21.9 576.48H24.8M21.9 549.54H24.8M21.9 522.6H24.8M22.7 643.83H24.8M22.7 616.89H24.8M22.7 589.95H24.8M22.7 563.01H24.8M22.7 536.07H24.8M49.3 657.3V660.1M98.4 657.3V660.1M147.3 657.3V660.1" stroke="#000" stroke-width="1.1" fill="none"/>
<text font-size="8.2" text-anchor="end" fill="#2a2a2a" textLength="4.5" lengthAdjust="spacing" stroke="#2a2a2a" stroke-width="0.15" transform="translate(20.5 662) scale(0.8 1)">0</text>
<text font-size="8.2" text-anchor="end" fill="#2a2a2a" textLength="9" lengthAdjust="spacing" stroke="#2a2a2a" stroke-width="0.15" transform="translate(20.5 635.06) scale(0.8 1)">20</text>
<text font-size="8.2" text-anchor="end" fill="#2a2a2a" textLength="9" lengthAdjust="spacing" stroke="#2a2a2a" stroke-width="0.15" transform="translate(20.5 608.12) scale(0.8 1)">40</text>
<text font-size="8.2" text-anchor="end" fill="#2a2a2a" textLength="9" lengthAdjust="spacing" stroke="#2a2a2a" stroke-width="0.15" transform="translate(20.5 581.18) scale(0.8 1)">60</text>
<text font-size="8.2" text-anchor="end" fill="#2a2a2a" textLength="9" lengthAdjust="spacing" stroke="#2a2a2a" stroke-width="0.15" transform="translate(20.5 554.24) scale(0.8 1)">80</text>
<text font-size="8.2" text-anchor="end" fill="#2a2a2a" textLength="13.5" lengthAdjust="spacing" stroke="#2a2a2a" stroke-width="0.15" transform="translate(20.5 527.3) scale(0.8 1)">100</text>
<text font-size="8.2" text-anchor="middle" fill="#2a2a2a" textLength="52.63" lengthAdjust="spacing" stroke="#2a2a2a" stroke-width="0.1" transform="translate(7.3 589.55) rotate(-90) scale(0.95 1)">% Methylation</text>
<text font-size="8.6" text-anchor="middle" fill="#2a2a2a" textLength="34.5" lengthAdjust="spacing" stroke="#2a2a2a" stroke-width="0.25" transform="translate(51.6 669.6) scale(0.8 1)">Normal</text>
<text font-size="8.6" text-anchor="middle" fill="#2a2a2a" textLength="45.12" lengthAdjust="spacing" stroke="#2a2a2a" stroke-width="0.25" transform="translate(101 669.6) scale(0.8 1)">Diagnosis</text>
<text font-size="8.6" text-anchor="middle" fill="#2a2a2a" textLength="38.25" lengthAdjust="spacing" stroke="#2a2a2a" stroke-width="0.25" transform="translate(149.6 669.6) scale(0.8 1)">Relapse</text>
<text transform="translate(97.7 521.9) scale(0.88 1)" font-size="10.3" text-anchor="middle" fill="#111" stroke="#111" stroke-width="0.3" textLength="34.09" lengthAdjust="spacing"><tspan font-style="italic">OLIG2</tspan></text>
<g stroke="#000" stroke-width="1.2" fill="none"><path d="M40.25 645.58H57.75M40.25 652.85H57.75M49 645.58V648.28M49 651.51V652.85"/><rect x="32.5" y="648.28" width="33" height="3.23" fill="#fff"/><path d="M32.5 650.56H65.5"/></g>
<path d="M98.4 537.55L147.3 589.55M98.4 553.72L147.3 620.26M98.4 580.66L147.3 652.45M98.4 654.61L147.3 528.66M98.4 595.74L147.3 560.05M98.4 599.65L147.3 579.98M98.4 608.54L147.3 585.64M98.4 614.2L147.3 590.76M98.4 616.62L147.3 604.23M98.4 619.85L147.3 614.73M98.4 621.74L147.3 640.73M98.4 628.07L147.3 619.18M98.4 630.63L147.3 618.24M98.4 634.4L147.3 636.29M98.4 638.17L147.3 614.73M98.4 641.14L147.3 626.86M98.4 643.16L147.3 644.5M98.4 645.18L147.3 619.18M98.4 647.87L147.3 648.54M98.4 649.89L147.3 636.29M98.4 652.05L147.3 650.83M98.4 616.62L147.3 644.5M98.4 639.79L147.3 649.22M98.4 649.22L147.3 640.73M98.4 642.48L147.3 650.83M98.4 646.52L147.3 626.86M98.4 651.24L147.3 646.52M98.4 630.36L147.3 590.76" stroke="#000" stroke-width="1.15" fill="none"/>
<path d="M98.4 537.55h0M147.3 589.55h0M98.4 553.72h0M147.3 620.26h0M98.4 580.66h0M147.3 652.45h0M98.4 654.61h0M147.3 528.66h0M98.4 595.74h0M147.3 560.05h0M98.4 599.65h0M147.3 579.98h0M98.4 608.54h0M147.3 585.64h0M98.4 614.2h0M147.3 590.76h0M98.4 616.62h0M147.3 604.23h0M98.4 619.85h0M147.3 614.73h0M98.4 621.74h0M147.3 640.73h0M98.4 628.07h0M147.3 619.18h0M98.4 630.63h0M147.3 618.24h0M98.4 634.4h0M147.3 636.29h0M98.4 638.17h0M147.3 614.73h0M98.4 641.14h0M147.3 626.86h0M98.4 643.16h0M147.3 644.5h0M98.4 645.18h0M147.3 619.18h0M98.4 647.87h0M147.3 648.54h0M98.4 649.89h0M147.3 636.29h0M98.4 652.05h0M147.3 650.83h0M98.4 616.62h0M147.3 644.5h0M98.4 639.79h0M147.3 649.22h0M98.4 649.22h0M147.3 640.73h0M98.4 642.48h0M147.3 650.83h0M98.4 646.52h0M147.3 626.86h0M98.4 651.24h0M147.3 646.52h0M98.4 630.36h0M147.3 590.76h0" stroke="#000" stroke-width="2.9" stroke-linecap="round" fill="none"/>
<path d="M197.4 519.3V657.3H348" fill="none" stroke="#000" stroke-width="1.35"/>
<path d="M194.5 635.8H197.4M194.5 614.3H197.4M194.5 592.8H197.4M194.5 571.3H197.4M194.5 549.8H197.4M194.5 528.3H197.4M195.3 646.55H197.4M195.3 625.05H197.4M195.3 603.55H197.4M195.3 582.05H197.4M195.3 560.55H197.4M195.3 539.05H197.4M222.6 657.3V660.1M272.3 657.3V660.1M322.3 657.3V660.1" stroke="#000" stroke-width="1.1" fill="none"/>
<text font-size="8.2" text-anchor="end" fill="#2a2a2a" textLength="9" lengthAdjust="spacing" stroke="#2a2a2a" stroke-width="0.15" transform="translate(193.1 640.5) scale(0.8 1)">60</text>
<text font-size="8.2" text-anchor="end" fill="#2a2a2a" textLength="9" lengthAdjust="spacing" stroke="#2a2a2a" stroke-width="0.15" transform="translate(193.1 619) scale(0.8 1)">65</text>
<text font-size="8.2" text-anchor="end" fill="#2a2a2a" textLength="9" lengthAdjust="spacing" stroke="#2a2a2a" stroke-width="0.15" transform="translate(193.1 597.5) scale(0.8 1)">70</text>
<text font-size="8.2" text-anchor="end" fill="#2a2a2a" textLength="9" lengthAdjust="spacing" stroke="#2a2a2a" stroke-width="0.15" transform="translate(193.1 576) scale(0.8 1)">75</text>
<text font-size="8.2" text-anchor="end" fill="#2a2a2a" textLength="9" lengthAdjust="spacing" stroke="#2a2a2a" stroke-width="0.15" transform="translate(193.1 554.5) scale(0.8 1)">80</text>
<text font-size="8.2" text-anchor="end" fill="#2a2a2a" textLength="9" lengthAdjust="spacing" stroke="#2a2a2a" stroke-width="0.15" transform="translate(193.1 533) scale(0.8 1)">85</text>
<text font-size="8.2" text-anchor="middle" fill="#2a2a2a" textLength="52.63" lengthAdjust="spacing" stroke="#2a2a2a" stroke-width="0.1" transform="translate(179.2 588.1) rotate(-90) scale(0.95 1)">% Methylation</text>
<text font-size="8.6" text-anchor="middle" fill="#2a2a2a" textLength="34.5" lengthAdjust="spacing" stroke="#2a2a2a" stroke-width="0.25" transform="translate(224.9 669.6) scale(0.8 1)">Normal</text>
<text font-size="8.6" text-anchor="middle" fill="#2a2a2a" textLength="45.12" lengthAdjust="spacing" stroke="#2a2a2a" stroke-width="0.25" transform="translate(274.9 669.6) scale(0.8 1)">Diagnosis</text>
<text font-size="8.6" text-anchor="middle" fill="#2a2a2a" textLength="38.25" lengthAdjust="spacing" stroke="#2a2a2a" stroke-width="0.25" transform="translate(324.6 669.6) scale(0.8 1)">Relapse</text>
<text transform="translate(273.15 518.5) scale(0.88 1)" font-size="10.3" text-anchor="middle" fill="#111" stroke="#111" stroke-width="0.3" textLength="35.57" lengthAdjust="spacing">LINE-1</text>
<g stroke="#000" stroke-width="1.2" fill="none"><path d="M213.85 590.91H230.75M213.85 623.11H230.75M222.3 590.91V605.49M222.3 611.42V623.11"/><rect x="205.3" y="605.49" width="34" height="5.93" fill="#fff"/><path d="M205.3 607.51H239.3"/></g>
<path d="M272.3 545.93L322.3 526.58M272.3 529.59L322.3 582.05M272.3 533.03L322.3 577.32M272.3 537.76L322.3 557.54M272.3 544.64L322.3 563.56M272.3 554.1L322.3 571.3M272.3 560.12L322.3 599.25M272.3 566.14L322.3 549.37M272.3 567.43L322.3 582.91M272.3 568.72L322.3 604.84M272.3 571.3L322.3 594.52M272.3 575.17L322.3 567M272.3 577.32L322.3 591.08M272.3 578.61L322.3 612.15M272.3 587.21L322.3 616.45M272.3 588.5L322.3 577.32M272.3 609.57L322.3 538.62M272.3 609.57L322.3 615.16M272.3 619.46L322.3 582.91M272.3 643.11L322.3 654.29M272.3 529.59L322.3 613.44M272.3 545.5L322.3 609.57M272.3 554.1L322.3 591.08M272.3 567L322.3 599.25M272.3 571.3L322.3 565.28M272.3 575.17L322.3 580.76M272.3 582.05L322.3 561.84M272.3 592.8L322.3 582.05M272.3 587.21L322.3 549.37M272.3 536.9L322.3 594.52M272.3 578.61L322.3 574.74M272.3 586.35L322.3 603.55" stroke="#000" stroke-width="1.15" fill="none"/>
<path d="M272.3 545.93h0M322.3 526.58h0M272.3 529.59h0M322.3 582.05h0M272.3 533.03h0M322.3 577.32h0M272.3 537.76h0M322.3 557.54h0M272.3 544.64h0M322.3 563.56h0M272.3 554.1h0M322.3 571.3h0M272.3 560.12h0M322.3 599.25h0M272.3 566.14h0M322.3 549.37h0M272.3 567.43h0M322.3 582.91h0M272.3 568.72h0M322.3 604.84h0M272.3 571.3h0M322.3 594.52h0M272.3 575.17h0M322.3 567h0M272.3 577.32h0M322.3 591.08h0M272.3 578.61h0M322.3 612.15h0M272.3 587.21h0M322.3 616.45h0M272.3 588.5h0M322.3 577.32h0M272.3 609.57h0M322.3 538.62h0M272.3 609.57h0M322.3 615.16h0M272.3 619.46h0M322.3 582.91h0M272.3 643.11h0M322.3 654.29h0M272.3 529.59h0M322.3 613.44h0M272.3 545.5h0M322.3 609.57h0M272.3 554.1h0M322.3 591.08h0M272.3 567h0M322.3 599.25h0M272.3 571.3h0M322.3 565.28h0M272.3 575.17h0M322.3 580.76h0M272.3 582.05h0M322.3 561.84h0M272.3 592.8h0M322.3 582.05h0M272.3 587.21h0M322.3 549.37h0M272.3 536.9h0M322.3 594.52h0M272.3 578.61h0M322.3 574.74h0M272.3 586.35h0M322.3 603.55h0" stroke="#000" stroke-width="2.9" stroke-linecap="round" fill="none"/>
</svg>
</body></html>
